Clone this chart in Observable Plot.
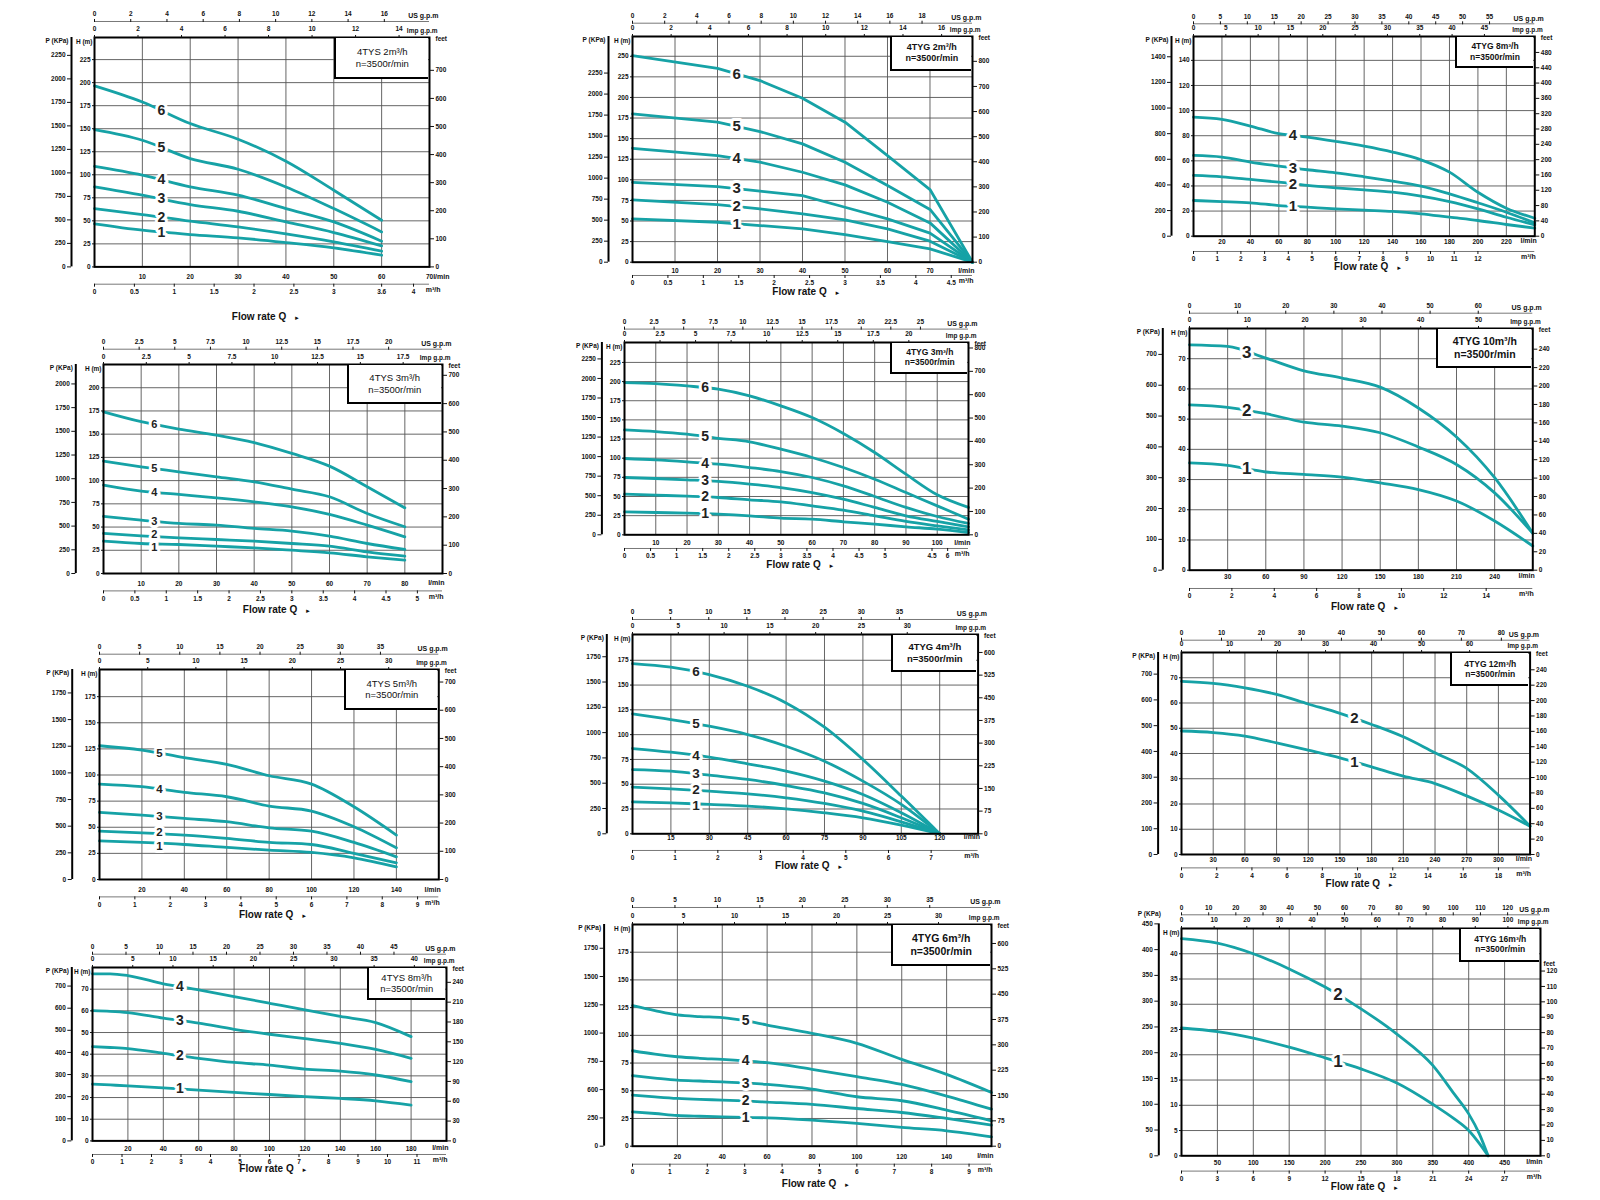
<!DOCTYPE html>
<html><head><meta charset="utf-8">
<script src="https://cdn.jsdelivr.net/npm/d3@7"></script>
<script src="https://cdn.jsdelivr.net/npm/@observablehq/plot@0.6"></script>
<style>
html,body{margin:0;padding:0;background:#fff;}
#page{position:relative;width:1600px;height:1200px;overflow:hidden;font-family:"Liberation Sans",Arial,sans-serif;}
.panel{position:absolute;}
.box{position:absolute;box-sizing:border-box;background:#fff;border-left:2px solid #000;border-bottom:2px solid #000;display:flex;flex-direction:column;justify-content:center;align-items:center;line-height:1.2;color:#111;}
</style></head><body><div id="page"></div>
<script>
// ---------------- DATA (flow in l/min, head in m) ----------------
const speedText = "n=3500r/min";

// 4TYS 2m³/h
const tys2Flow = [0,10,20,30,40,50,60];
const tys2Heads = [
  [46.7,39.8,35.1,31.5,26.4,20.6,12.7],
  [63.3,56.8,49.6,43.4,35.8,27.1,17.0],
  [86.8,77.8,67.7,60.4,48.8,37.3,22.8],
  [109,99.5,86.8,77.8,63.3,48.8,27.9],
  [149,137.5,117.6,106,86.8,63.3,38],
  [196.5,179,155.6,138.6,114.7,83.2,50.6]];
const tys2Us = [0,2,4,6,8,10,12,14,16];
const tys2Imp = [0,2,4,6,8,10,12,14];
const tys2P = [0,250,500,750,1000,1250,1500,1750,2000,2250];
const tys2H = [0,25,50,75,100,125,150,175,200,225];
const tys2Feet = [0,100,200,300,400,500,600,700];
const tys2Lmin = [10,20,30,40,50,60,70];
const tys2M3 = [0,0.5,1,1.5,2,2.5,3,3.6,4];

// 4TYG 2m³/h
const tyg2Flow = [0,20,30,40,50,60,70,80];
const tyg2Heads = [
  [52.6,48.5,44.5,40.5,33.6,25.1,16.2,0],
  [75.6,70,64.7,58.7,51.4,40.5,25.5,0],
  [97,91.8,86.2,80.9,66.7,52.6,35.2,0],
  [138.3,129.4,121.4,109.2,93.9,72.8,47.7,0],
  [180,170,158.6,143.6,121.4,93,64,0],
  [250.8,235.4,220.5,199,170,129.4,88.2,0]];
const tyg2Us = [0,2,4,6,8,10,12,14,16,18];
const tyg2Imp = [0,2,4,6,8,10,12,14,16];
const tyg2P = [0,250,500,750,1000,1250,1500,1750,2000,2250];
const tyg2H = [0,25,50,75,100,125,150,175,200,225,250];
const tyg2Feet = [0,100,200,300,400,500,600,700,800];
const tyg2Lmin = [10,20,30,40,50,60,70];
const tyg2M3 = [0,0.5,1,1.5,2,2.5,3,3.5,4,4.5];

// 4TYG 8m³/h
const tyg8Flow = [0,20,40,60,80,100,120,140,160,180,200,220,240];
const tyg8Heads = [
  [28.4,27.6,26.6,24.4,23.1,21.8,20.7,19.7,17.8,15.1,12.5,9.3,6.4],
  [48.4,47.3,45.2,43,40.4,38.5,36.9,35,31.9,27.6,21.8,15.1,9],
  [64.3,63,59,55.8,52.9,50.5,47.3,43.8,39.9,33.7,26.6,19.1,10.6],
  [94.8,93,87.7,81.6,78.9,75.5,71.7,67,60.8,51,35,22.3,14.3]];
const tyg8Us = [0,5,10,15,20,25,30,35,40,45,50,55];
const tyg8Imp = [0,5,10,15,20,25,30,35,40,45];
const tyg8P = [0,200,400,600,800,1000,1200,1400];
const tyg8H = [0,20,40,60,80,100,120,140];
const tyg8Feet = [0,40,80,120,160,200,240,280,320,360,400,440,480];
const tyg8Lmin = [20,40,60,80,100,120,140,160,180,200,220];
const tyg8M3 = [0,1,2,3,4,5,6,7,8,9,10,11,12];

// 4TYS 3m³/h
const tys3Flow = [0,10,20,30,40,50,60,70,80];
const tys3Heads = [
  [34.8,32.3,31.2,29.4,27.6,25.1,22.3,18,14.4],
  [43.1,40.6,38.4,36.6,34.8,32.3,29.4,23.3,18.7],
  [61.4,57.5,53.9,52.1,48.5,45.6,40.2,32.3,25.9],
  [95.2,88.7,85.1,81.5,77.2,71.8,63.6,52.1,39.5],
  [121,114.9,109.5,104.1,98.7,90.8,82.6,64.6,50.3],
  [174,163.4,155.5,149,141,129.3,115.6,93.4,70.7]];
const tys3Us = [0,2.5,5,7.5,10,12.5,15,17.5,20];
const tys3Imp = [0,2.5,5,7.5,10,12.5,15,17.5];
const tys3P = [0,250,500,750,1000,1250,1500,1750,2000];
const tys3H = [0,25,50,75,100,125,150,175,200];
const tys3Feet = [0,100,200,300,400,500,600,700];
const tys3Lmin = [10,20,30,40,50,60,70,80];
const tys3M3 = [0,0.5,1,1.5,2,2.5,3,3.5,4,4.5,5];

// 4TYG 3m³/h
const tyg3Flow = [0,10,20,30,40,50,60,70,80,90,100,110];
const tyg3Heads = [
  [30,29.1,28.3,27,24.8,21.7,20.4,17,13.9,10.4,7.4,3],
  [53,51.7,50.4,48.7,45.7,43,37.8,32.2,24.8,17.4,11.7,6.5],
  [74.8,73.5,71.7,69.6,66.1,61.7,55.2,46.5,35.7,24.8,17.4,10.4],
  [99.6,97.8,95.2,92.2,87.8,82.6,74.8,63.9,50,35.7,23.9,14.8],
  [137,134.8,131.3,126,121.3,111.7,100.9,87.8,72.6,55.2,37.8,20.4],
  [198.7,197.4,194.3,190,181.3,168.3,153,132.2,107.4,79.1,52.2,35.7]];
const tyg3Us = [0,2.5,5,7.5,10,12.5,15,17.5,20,22.5,25];
const tyg3Imp = [0,2.5,5,7.5,10,12.5,15,17.5,20];
const tyg3P = [0,250,500,750,1000,1250,1500,1750,2000,2250];
const tyg3H = [0,25,50,75,100,125,150,175,200,225];
const tyg3Feet = [0,100,200,300,400,500,600,700,800];
const tyg3Lmin = [10,20,30,40,50,60,70,80,90,100];
const tyg3M3 = [0,0.5,1,1.5,2,2.5,3,3.5,4,4.5,5,5.9,6.2];
const tyg3M3Labels = ["0","0.5","1","1.5","2","2.5","3","3.5","4","4.5","5","4.5","6"];

// 4TYG 10m³/h
const tyg10Flow = [0,30,60,90,120,150,180,210,240,270];
const tyg10Heads = [
  [35.5,34.7,32.5,31.7,30.8,28.9,26.7,22.9,16.3,8],
  [54.7,53.9,51.8,49,47.7,45.5,40.8,35,25.6,12.2],
  [74.6,74.1,70.2,66,63.6,60.6,53.7,44.1,30.6,12.2]];
const tyg10Us = [0,10,20,30,40,50,60];
const tyg10Imp = [0,10,20,30,40,50];
const tyg10P = [0,100,200,300,400,500,600,700];
const tyg10H = [0,10,20,30,40,50,60,70];
const tyg10Feet = [0,20,40,60,80,100,120,140,160,180,200,220,240];
const tyg10Lmin = [30,60,90,120,150,180,210,240];
const tyg10M3 = [0,2,4,6,8,10,12,14];

// 4TYS 5m³/h
const tys5Flow = [0,20,40,60,80,100,120,140];
const tys5Heads = [
  [37,35.5,33.5,30.7,28.1,25.9,20.8,12.1],
  [46.3,44.7,42.5,39.3,35.5,33.5,24.9,16],
  [64.2,61.6,58.4,55.3,49.5,46.3,35.5,21.7],
  [91.3,88.8,83.4,79.2,70.3,65.5,50.5,30.3],
  [128,123.9,116.6,110.2,99.3,91.3,69.6,42.5]];
const tys5Us = [0,5,10,15,20,25,30,35];
const tys5Imp = [0,5,10,15,20,25,30];
const tys5P = [0,250,500,750,1000,1250,1500,1750];
const tys5H = [0,25,50,75,100,125,150,175];
const tys5Feet = [0,100,200,300,400,500,600,700];
const tys5Lmin = [20,40,60,80,100,120,140];
const tys5M3 = [0,1,2,3,4,5,6,7,8,9];

// 4TYG 4m³/h
const tyg4Flow = [0,15,30,45,60,75,90,105,120];
const tyg4Heads = [
  [32.2,31.2,29.6,27.9,25.2,21.2,16.1,8.7,0],
  [47,45.3,43,40.3,36.3,30.6,22.8,12.1,0],
  [64.8,63.2,59.1,54.8,48.7,41.3,30.6,16.1,0],
  [86,82.3,77.3,70.5,63.2,53.1,39.6,21.2,0],
  [120.9,115.2,108.5,100.1,88.3,73.2,53.1,29.6,0],
  [171.6,168,160.6,148.8,132,107.5,74.9,38,0]];
const tyg4Us = [0,5,10,15,20,25,30,35];
const tyg4Imp = [0,5,10,15,20,25,30];
const tyg4P = [0,250,500,750,1000,1250,1500,1750];
const tyg4H = [0,25,50,75,100,125,150,175];
const tyg4Feet = [0,75,150,225,300,375,450,525,600];
const tyg4Lmin = [15,30,45,60,75,90,105,120];
const tyg4M3 = [0,1,2,3,4,5,6,7];

// 4TYG 12m³/h
const tyg12Flow = [0,30,60,90,120,150,180,210,240,270,300,330];
const tyg12Heads = [
  [48.9,48.3,46.9,44.2,41.3,38.3,34.7,31,28.1,23.2,17.6,11.2],
  [68.6,67.8,66,63.4,59.6,55.9,51.5,46.6,40.3,34.1,23.5,11.2]];
const tyg12Us = [0,10,20,30,40,50,60,70,80];
const tyg12Imp = [0,10,20,30,40,50,60];
const tyg12P = [0,100,200,300,400,500,600,700];
const tyg12H = [0,10,20,30,40,50,60,70];
const tyg12Feet = [0,20,40,60,80,100,120,140,160,180,200,220,240];
const tyg12Lmin = [30,60,90,120,150,180,210,240,270,300];
const tyg12M3 = [0,2,4,6,8,10,12,14,16,18];

// 4TYS 8m³/h
const tys8Flow = [0,10,20,40,60,80,100,120,140,160,180];
const tys8Heads = [
  [26.2,25.8,25.4,24.5,23.4,22.4,21.4,20.4,19.6,18.5,16.5],
  [43.5,43.1,42.6,40.4,38.1,36.2,35,33.1,32.2,30.4,27.3],
  [60.1,59.8,59.2,56.6,54.3,51.5,49.2,47.2,45,42.2,38.1],
  [77.1,77.1,76.3,72.5,69.7,66.6,63.5,60.4,57.4,54.6,48.1]];
const tys8Us = [0,5,10,15,20,25,30,35,40,45];
const tys8Imp = [0,5,10,15,20,25,30,35,40];
const tys8P = [0,100,200,300,400,500,600,700];
const tys8H = [0,10,20,30,40,50,60,70];
const tys8Feet = [0,30,60,90,120,150,180,210,240];
const tys8Lmin = [20,40,60,80,100,120,140,160,180];
const tys8M3 = [0,1,2,3,4,5,6,7,8,9,10,11];

// 4TYG 6m³/h
const tyg6Flow = [0,10,20,30,40,50,60,80,100,120,140,160];
const tyg6Heads = [
  [31,29.5,27.7,27,26.5,26,25.6,23.5,20.5,16.9,13.9,8.4],
  [46.1,44.5,43.1,42.2,41.6,40.8,39.8,37.7,34,30.4,25,19],
  [63.6,61.5,59.6,58.8,58.1,57,55.7,51.5,44.6,41,32.5,22.9],
  [86.1,83,80.7,79.3,78.3,77,75.3,69.3,62.7,55.7,45.2,33.4],
  [126.8,122.3,118.4,116.9,116,113.3,109.3,101.8,92.8,78.3,64.8,48.5]];
const tyg6Us = [0,5,10,15,20,25,30,35];
const tyg6Imp = [0,5,10,15,20,25,30];
const tyg6P = [0,250,500,750,1000,1250,1500,1750];
const tyg6PLabels = ["0","250","600","750","1000","1250","1500","1750"];
const tyg6H = [0,25,50,75,100,125,150,175];
const tyg6Feet = [0,75,150,225,300,375,450,525,600];
const tyg6Lmin = [20,40,60,80,100,120,140];
const tyg6M3 = [0,1,2,3,4,5,6,7,8,9];

// 4TYG 16m³/h
const tyg16Flow = [0,50,100,150,200,250,300,350,380,400,415,427];
const tyg16Heads = [
  [25.3,24.6,23.3,21.5,19.4,17.2,14.4,10.2,7.3,5,2.4,0],
  [43,42.1,40,37,33.4,29.1,24.1,17.9,12.2,8.3,4.3,0]];
const tyg16Us = [0,10,20,30,40,50,60,70,80,90,100,110,120];
const tyg16Imp = [0,10,20,30,40,50,60,70,80,90,100];
const tyg16P = [0,50,100,150,200,250,300,350,400,450];
const tyg16H = [0,5,10,15,20,25,30,35,40];
const tyg16Feet = [0,10,20,30,40,50,60,70,80,90,100,110,120];
const tyg16Lmin = [50,100,150,200,250,300,350,400,450];
const tyg16M3 = [0,3,6,9,12,15,18,21,24,27];

// ---------------- chart table built from the arrays ----------------
const charts = [
  {title:"4TYS 2m³/h", flow:tys2Flow, heads:tys2Heads, us:tys2Us, imp:tys2Imp, p:tys2P, h:tys2H, feet:tys2Feet, lmin:tys2Lmin, m3:tys2M3},
  {title:"4TYG 2m³/h", flow:tyg2Flow, heads:tyg2Heads, us:tyg2Us, imp:tyg2Imp, p:tyg2P, h:tyg2H, feet:tyg2Feet, lmin:tyg2Lmin, m3:tyg2M3},
  {title:"4TYG 8m³/h", flow:tyg8Flow, heads:tyg8Heads, us:tyg8Us, imp:tyg8Imp, p:tyg8P, h:tyg8H, feet:tyg8Feet, lmin:tyg8Lmin, m3:tyg8M3},
  {title:"4TYS 3m³/h", flow:tys3Flow, heads:tys3Heads, us:tys3Us, imp:tys3Imp, p:tys3P, h:tys3H, feet:tys3Feet, lmin:tys3Lmin, m3:tys3M3},
  {title:"4TYG 3m³/h", flow:tyg3Flow, heads:tyg3Heads, us:tyg3Us, imp:tyg3Imp, p:tyg3P, h:tyg3H, feet:tyg3Feet, lmin:tyg3Lmin, m3:tyg3M3, m3Labels:tyg3M3Labels},
  {title:"4TYG 10m³/h", flow:tyg10Flow, heads:tyg10Heads, us:tyg10Us, imp:tyg10Imp, p:tyg10P, h:tyg10H, feet:tyg10Feet, lmin:tyg10Lmin, m3:tyg10M3},
  {title:"4TYS 5m³/h", flow:tys5Flow, heads:tys5Heads, us:tys5Us, imp:tys5Imp, p:tys5P, h:tys5H, feet:tys5Feet, lmin:tys5Lmin, m3:tys5M3},
  {title:"4TYG 4m³/h", flow:tyg4Flow, heads:tyg4Heads, us:tyg4Us, imp:tyg4Imp, p:tyg4P, h:tyg4H, feet:tyg4Feet, lmin:tyg4Lmin, m3:tyg4M3},
  {title:"4TYG 12m³/h", flow:tyg12Flow, heads:tyg12Heads, us:tyg12Us, imp:tyg12Imp, p:tyg12P, h:tyg12H, feet:tyg12Feet, lmin:tyg12Lmin, m3:tyg12M3},
  {title:"4TYS 8m³/h", flow:tys8Flow, heads:tys8Heads, us:tys8Us, imp:tys8Imp, p:tys8P, h:tys8H, feet:tys8Feet, lmin:tys8Lmin, m3:tys8M3},
  {title:"4TYG 6m³/h", flow:tyg6Flow, heads:tyg6Heads, us:tyg6Us, imp:tyg6Imp, p:tyg6P, pLabels:tyg6PLabels, h:tyg6H, feet:tyg6Feet, lmin:tyg6Lmin, m3:tyg6M3},
  {title:"4TYG 16m³/h", flow:tyg16Flow, heads:tyg16Heads, us:tyg16Us, imp:tyg16Imp, p:tyg16P, h:tyg16H, feet:tyg16Feet, lmin:tyg16Lmin, m3:tyg16M3}
];

// ---------------- layout (positions / sizes, page pixels) ----------------
const layouts = [
  {fx:94.3, fy:37.3, fw:335, fh:229.4, xMax:70, yMax:249, pOff:23, usGap:16, m3Gap:17.3, lminGap:10.3, flowGap:53, bw:95, bh:42, lminDx:20, m3Dx:11, labelQ:14, labelSize:14, titleSize:9.5, labelDy:[1,0,0,0,0,0]},
  {fx:632.3, fy:36, fw:340, fh:225.7, xMax:80, yMax:274, pOff:24, usGap:13.3, m3Gap:13.3, lminGap:9, flowGap:33.3, bw:82, bh:35, labelQ:24.5, labelSize:15, titleSize:9, curve:"linear"},
  {fx:1192.7, fy:36, fw:341.3, fh:199.7, xMax:240, yMax:159, pOff:22, usGap:12.7, m3Gap:15.3, lminGap:5.3, flowGap:34.3, bw:79, bh:32, labelQ:70, labelSize:15, titleSize:8.5},
  {fx:102.7, fy:364.3, fw:339, fh:209, xMax:90, yMax:225, pOff:27.7, usGap:15.3, m3Gap:17.4, lminGap:10, flowGap:39, bw:95, bh:40, labelQ:13.5, labelSize:11, titleSize:9.5, labelDy:[3.5,-2,0,0,0,0]},
  {fx:624.3, fy:341.7, fw:344, fh:192.3, xMax:110, yMax:251, pOff:22.6, usGap:13.4, m3Gap:13.7, lminGap:8.3, flowGap:33.3, bw:78, bh:32, labelQ:25.8, labelSize:14, titleSize:8.5},
  {fx:1189, fy:328, fw:343.3, fh:241.7, xMax:270, yMax:80, pOff:26.7, usGap:15.3, m3Gap:18.3, lminGap:6.6, flowGap:39.6, bw:96, bh:40, labelQ:45, labelSize:17, titleSize:10.5},
  {fx:99, fy:669.3, fw:339.3, fh:210, xMax:160, yMax:201, pOff:27.3, usGap:15.3, m3Gap:17.4, lminGap:10.7, flowGap:39, bw:94, bh:41, labelQ:28.3, labelSize:11.5, titleSize:9.5, feetFactor:0.27, labelDy:[3,-1.5,0,0,0]},
  {fx:631.7, fy:634, fw:345.6, fh:199.3, xMax:135, yMax:201, pOff:25.7, usGap:15, m3Gap:16.7, lminGap:4, flowGap:35.7, bw:86, bh:38, labelQ:24.8, labelSize:13.5, titleSize:9.5, topScale:0.787, labelDy:[1.5,-0.5,0,0,0,0]},
  {fx:1180.7, fy:652.3, fw:348.6, fh:202, xMax:330, yMax:80, pOff:23.4, usGap:12.3, m3Gap:13.4, lminGap:5, flowGap:32.4, bw:79, bh:34, labelQ:163.6, labelSize:15, titleSize:8.5},
  {fx:91.7, fy:967.3, fw:354, fh:173.4, xMax:200, yMax:80, pOff:20.7, usGap:13.3, m3Gap:13.6, lminGap:7.6, flowGap:31.6, bw:79, bh:33, labelQ:49.4, labelSize:14, titleSize:9.5},
  {fx:631.7, fy:924.3, fw:359, fh:221.7, xMax:160, yMax:200, pOff:28.4, usGap:17, m3Gap:18, lminGap:10.7, flowGap:40.7, bw:100, bh:42, labelQ:50.4, labelSize:14, titleSize:10.5},
  {fx:1181.3, fy:927.7, fw:359, fh:227.3, xMax:500, yMax:45, pOff:22.7, usGap:13.7, m3Gap:15.3, lminGap:6.7, flowGap:34, bw:81, bh:34, labelQ:218, labelSize:17, titleSize:8.5, feetAtTick:true}
];

const M = {left: 64, top: 40, right: 40, bottom: 62};
const TEAL = "#16a2a6";
const GRID = "#555";
const KPA_PER_M = 9.8, LPM_US = 3.785, LPM_IMP = 4.546, LPM_M3 = 1000 / 60;

function fmt(v) { return String(Math.round(v * 100) / 100); }
function interp(xs, ys, x) {
  for (let i = 1; i < xs.length; i++) {
    if (x <= xs[i]) { const t = (x - xs[i-1]) / (xs[i] - xs[i-1]); return ys[i-1] + t * (ys[i] - ys[i-1]); }
  }
  return ys[ys.length - 1];
}
function tickSpec(vals, k, labels) {
  const t = vals.map(v => v * k);
  const m = new Map(t.map((d, i) => [d, labels ? labels[i] : fmt(vals[i])]));
  return {ticks: t, tickFormat: d => m.get(d) ?? ""};
}

const page = document.getElementById("page");

charts.forEach((c, idx) => {
  const L = layouts[idx];
  const ff = L.feetFactor ?? 0.3048;
  const ts = L.topScale ?? 1;
  const pxPerM = L.fh / L.yMax;
  const rows = [];
  c.heads.forEach((hs, i) => hs.forEach((h, j) => rows.push({q: c.flow[j], h, n: i + 1})));
  const labels = c.heads.map((hs, i) => ({
    q: L.labelQ,
    h: interp(c.flow, hs, L.labelQ) - ((L.labelDy ? L.labelDy[i] : 0) / pxPerM),
    n: String(i + 1)
  }));
  const pMaxM = d3.max(c.p) / KPA_PER_M;
  const feetMaxM = d3.max(c.feet) * ff;
  const unit = {fontSize: 6.5, fontWeight: "bold", fill: "#111"};

  const marks = [
    Plot.ruleX(c.lmin.filter(v => v < L.xMax), {stroke: GRID, strokeWidth: 0.9}),
    Plot.ruleY(c.h.filter(v => v > 0 && v < L.yMax), {stroke: GRID, strokeWidth: 0.9}),
    Plot.line(rows, {x: "q", y: "h", z: "n", stroke: TEAL, strokeWidth: 2.8, curve: L.curve ?? "monotone-x"}),
    Plot.text(labels, {x: "q", y: "h", text: "n", fontSize: L.labelSize, fontFamily: "'Liberation Sans', Arial, sans-serif", fontWeight: "bold", fill: "#222", stroke: "white", strokeWidth: 6, paintOrder: "stroke"}),
    Plot.frame({stroke: "#000", strokeWidth: 2}),
    // H (m) axis
    Plot.axisY({anchor: "left", ...tickSpec(c.h, 1), tickSize: 2, tickPadding: 2, label: null}),
    // P (KPa) axis
    Plot.ruleX([0], {y1: 0, y2: Math.max(pMaxM, L.yMax), dx: -L.pOff, stroke: "#000", strokeWidth: 2}),
    Plot.axisY({anchor: "left", ...tickSpec(c.p, 1 / KPA_PER_M, c.pLabels), dx: -L.pOff, tickSize: 4, tickPadding: 2, label: null}),
    // feet axis
    Plot.axisY({anchor: "right", ...tickSpec(c.feet, ff), tickSize: 4, tickPadding: 2, label: null}),
    // l/min axis
    Plot.axisX({anchor: "bottom", ...tickSpec(c.lmin, 1), tickSize: 0, tickPadding: Math.max(0.5, L.lminGap - 2.5), label: null}),
    // m³/h axis
    Plot.ruleY([0], {x1: 0, x2: L.xMax, dy: L.m3Gap, stroke: "#777", strokeWidth: 1}),
    Plot.axisX({anchor: "bottom", ...tickSpec(c.m3, LPM_M3, c.m3Labels), dy: L.m3Gap, tickSize: 3, tickPadding: 2, label: null}),
    // US g.p.m axis
    Plot.ruleY([L.yMax], {x1: 0, x2: L.xMax, dy: -L.usGap, stroke: "#777", strokeWidth: 1}),
    Plot.axisX({anchor: "top", ...tickSpec(c.us, LPM_US * ts), dy: -L.usGap, tickSize: 3, tickPadding: 2, label: null}),
    // Imp g.p.m axis
    Plot.axisX({anchor: "top", ...tickSpec(c.imp, LPM_IMP * ts), tickSize: 3, tickPadding: 3, label: null}),
    // unit labels
    Plot.text(["US g.p.m"], {frameAnchor: "top-right", text: d => d, textAnchor: "end", dx: 9, dy: -L.usGap - 8, ...unit, fontSize: 7}),
    Plot.text(["Imp g.p.m"], {frameAnchor: "top-right", text: d => d, textAnchor: "end", dx: 8, dy: -9.5, ...unit}),
    L.feetAtTick
      ? Plot.text(["feet"], {y: () => feetMaxM, frameAnchor: "right", text: d => d, textAnchor: "start", dx: 3, dy: -7, ...unit})
      : Plot.text(["feet"], {frameAnchor: "top-right", text: d => d, textAnchor: "start", dx: 6, dy: -1.5, ...unit}),
    pMaxM > L.yMax
      ? Plot.text(["P (KPa)"], {x: 0, y: () => pMaxM, text: d => d, textAnchor: "end", dx: -L.pOff + 2, dy: -10, ...unit})
      : Plot.text(["P (KPa)"], {frameAnchor: "top-left", text: d => d, textAnchor: "end", dx: -L.pOff - 3, dy: 1, ...unit}),
    Plot.text(["H (m)"], {frameAnchor: "top-left", text: d => d, textAnchor: "end", dx: -2, dy: 2, ...unit}),
    Plot.text(["l/min"], {frameAnchor: "bottom-right", text: d => d, dx: L.lminDx ?? 2, dy: L.lminGap + 1.5, ...unit, fontSize: 7}),
    Plot.text(["m³/h"], {frameAnchor: "bottom-right", text: d => d, dx: L.m3Dx ?? 1, dy: L.m3Gap + 8, ...unit, fontSize: 7}),
    Plot.text(["Flow rate Q"], {frameAnchor: "bottom", text: d => d, dx: -3, dy: L.flowGap, fontSize: 10, fontWeight: "bold", fill: "#111"}),
    Plot.text(["►"], {frameAnchor: "bottom", text: d => d, dx: 35, dy: L.flowGap, fontSize: 6, fill: "#111"})
  ];

  const svg = Plot.plot({
    width: L.fw + M.left + M.right,
    height: L.fh + M.top + M.bottom,
    marginLeft: M.left, marginRight: M.right, marginTop: M.top, marginBottom: M.bottom,
    x: {domain: [0, L.xMax]},
    y: {domain: [0, L.yMax]},
    style: {fontFamily: "'Liberation Sans', Arial, sans-serif", fontSize: "6.5px", fontWeight: "bold", background: "transparent", overflow: "visible", maxWidth: "none", color: "#111"},
    marks
  });

  const wrap = document.createElement("div");
  wrap.className = "panel";
  wrap.style.left = (L.fx - M.left) + "px";
  wrap.style.top = (L.fy - M.top) + "px";
  wrap.appendChild(svg);
  page.appendChild(wrap);

  const box = document.createElement("div");
  box.className = "box";
  box.style.left = (L.fx + L.fw - L.bw) + "px";
  box.style.top = (L.fy + 1) + "px";
  box.style.width = (L.bw - 1) + "px";
  box.style.height = (L.bh - 1) + "px";
  box.style.fontSize = L.titleSize + "px";
  box.style.fontWeight = c.title.startsWith("4TYG") ? "bold" : "normal";
  const t1 = document.createElement("div"); t1.textContent = c.title;
  const t2 = document.createElement("div"); t2.textContent = speedText;
  box.appendChild(t1); box.appendChild(t2);
  page.appendChild(box);
});
</script>
</body></html>
